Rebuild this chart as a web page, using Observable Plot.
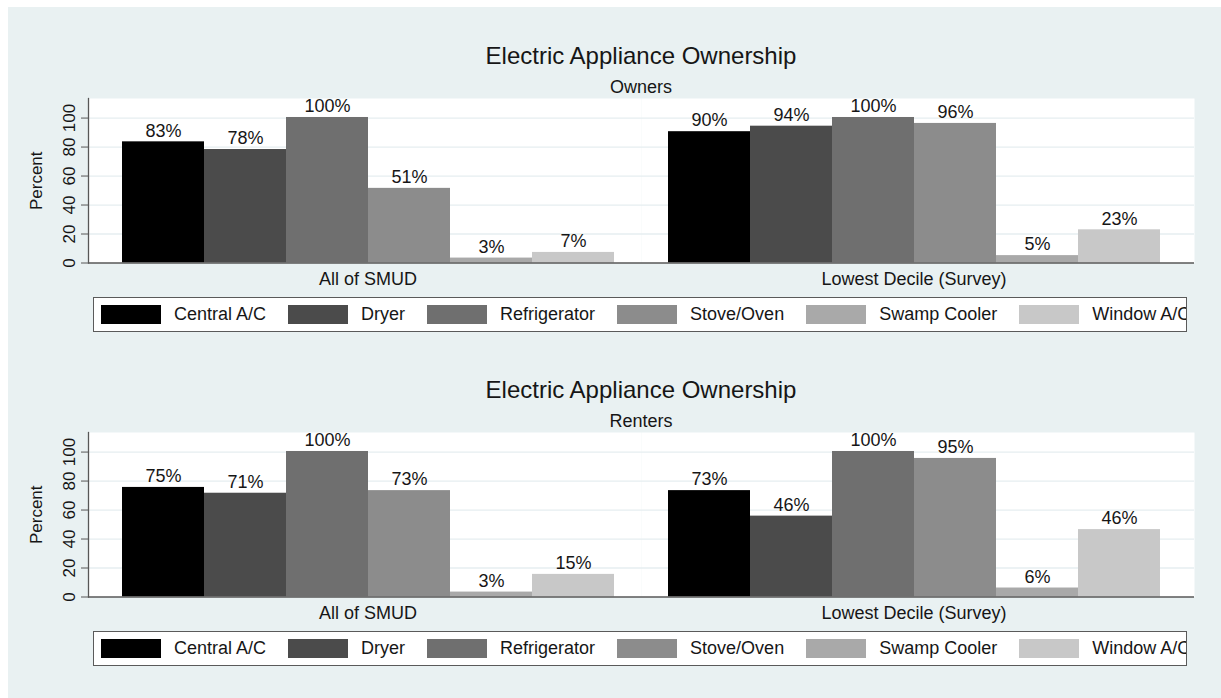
<!DOCTYPE html>
<html>
<head>
<meta charset="utf-8">
<script src="https://cdn.jsdelivr.net/npm/d3@7"></script>
<script src="https://cdn.jsdelivr.net/npm/@observablehq/plot@0.6"></script>
<style>
  html, body { margin: 0; padding: 0; background: #ffffff; }
  #page { position: relative; width: 1221px; height: 698px; overflow: hidden;
          font-family: "Liberation Sans", Arial, Helvetica, sans-serif; color: #161616; }
  #bg { position: absolute; left: 8px; top: 7px; right: 0; bottom: 0; background: #e9f1f2; }
  .title { position: absolute; left: 88px; width: 1106px; text-align: center; font-size: 24px; line-height: 30px; }
  .subtitle { position: absolute; left: 88px; width: 1106px; text-align: center; font-size: 18px; line-height: 22px; }
  .row { position: absolute; left: 0; display: flex; }
  .row svg { display: block; }
  .legend { position: absolute; left: 93px; width: 1094px; height: 35px; box-sizing: border-box;
            border: 1.5px solid #5a5a5a; background: #ffffff; overflow: hidden;
            display: flex; align-items: center; padding-left: 7px; white-space: nowrap; }
  .legend .item { display: flex; align-items: center; margin-right: 22px; font-size: 18px; flex: none; }
  .legend .sw { width: 60px; height: 19px; margin-right: 13px; flex: none; }
</style>
</head>
<body>
<div id="page"><div id="bg"></div></div>
<script>
// ---- data ----
const titleText = "Electric Appliance Ownership";
const panelNames = ["Owners", "Renters"];
const groups = ["All of SMUD", "Lowest Decile (Survey)"];
const appliances = ["Central A/C", "Dryer", "Refrigerator", "Stove/Oven", "Swamp Cooler", "Window A/C"];
const barColors = ["#000000", "#4b4b4b", "#6f6f6f", "#8c8c8c", "#a9a9a9", "#c8c8c8"];
const yTicks = [0, 20, 40, 60, 80, 100];
const yLabel = "Percent";

const ownersAll = [83.6, 78.3, 100.4, 51.5, 3.4, 7.3];
const ownersAllLabels = ["83%", "78%", "100%", "51%", "3%", "7%"];
const ownersLowest = [90.6, 94.4, 100.4, 96.3, 5.1, 22.9];
const ownersLowestLabels = ["90%", "94%", "100%", "96%", "5%", "23%"];
const rentersAll = [75.6, 71.6, 100.4, 73.4, 3.4, 15.6];
const rentersAllLabels = ["75%", "71%", "100%", "73%", "3%", "15%"];
const rentersLowest = [73.4, 55.8, 100.4, 95.6, 6.2, 46.5];
const rentersLowestLabels = ["73%", "46%", "100%", "95%", "6%", "46%"];

// ---- styles ----
const font = "Liberation Sans, Arial, Helvetica, sans-serif";
const gridColor = "#e6eef0";
const axisColor = "#575757";
const yDomain = [0, 113.5];

function rows(vals, labels) {
  return appliances.map((a, i) => ({appliance: a, value: vals[i], label: labels[i]}));
}

function groupPlot(data, group, isLeft) {
  const marks = [
    Plot.frame({fill: "white", stroke: null}),
    Plot.ruleY(yTicks.slice(1), {stroke: gridColor, strokeWidth: 1.3}),
    Plot.barY(data, {x: "appliance", y: "value", fill: "appliance"}),
    Plot.text(data, {x: "appliance", y: "value", text: "label", dy: -11, fontSize: 18, fill: "#161616"}),
    Plot.ruleY([0], {stroke: axisColor, strokeWidth: 1.3}),
    Plot.text([group], {frameAnchor: "bottom", lineAnchor: "middle", dy: 16, dx: isLeft ? 3 : -4,
                        fontSize: 18, fill: "#161616"})
  ];
  if (isLeft) {
    marks.push(
      Plot.frame({anchor: "left", stroke: axisColor, strokeWidth: 1.3}),
      Plot.axisY({ticks: yTicks, tickSize: 7, tickPadding: 7, tickRotate: -90, fontSize: 17,
                  label: null, stroke: axisColor, fill: "#161616"}),
      Plot.text([yLabel], {frameAnchor: "left", textAnchor: "middle", lineAnchor: "middle",
                           rotate: -90, dx: -52, fontSize: 17, fill: "#161616"})
    );
  }
  return Plot.plot({
    width: isLeft ? 641 : 580,
    height: 200,
    marginLeft: isLeft ? 88 : 0,
    marginRight: isLeft ? 0 : 27,
    marginTop: 5,
    marginBottom: 30.5,
    style: {background: "transparent", fontFamily: font, overflow: "visible"},
    x: {domain: appliances, paddingInner: 0, paddingOuter: 0.365, align: isLeft ? 0.55 : 0.45, axis: null},
    y: {domain: yDomain, axis: null},
    color: {domain: appliances, range: barColors},
    marks
  });
}

function panel(top, name, allV, allL, lowV, lowL) {
  const page = document.getElementById("page");
  const t = document.createElement("div");
  t.className = "title"; t.style.top = (top + 41) + "px"; t.textContent = titleText;
  page.appendChild(t);
  const s = document.createElement("div");
  s.className = "subtitle"; s.style.top = (top + 76) + "px"; s.textContent = name;
  page.appendChild(s);
  const row = document.createElement("div");
  row.className = "row"; row.style.top = (top + 93) + "px";
  row.appendChild(groupPlot(rows(allV, allL), groups[0], true));
  row.appendChild(groupPlot(rows(lowV, lowL), groups[1], false));
  page.appendChild(row);
  const lg = document.createElement("div");
  lg.className = "legend"; lg.style.top = (top + 297) + "px";
  appliances.forEach((a, i) => {
    const it = document.createElement("div"); it.className = "item";
    const sw = document.createElement("div"); sw.className = "sw"; sw.style.background = barColors[i];
    const tx = document.createElement("span"); tx.textContent = a;
    it.appendChild(sw); it.appendChild(tx); lg.appendChild(it);
  });
  page.appendChild(lg);
}

panel(0, panelNames[0], ownersAll, ownersAllLabels, ownersLowest, ownersLowestLabels);
panel(333.5, panelNames[1], rentersAll, rentersAllLabels, rentersLowest, rentersLowestLabels);
</script>
</body>
</html>
